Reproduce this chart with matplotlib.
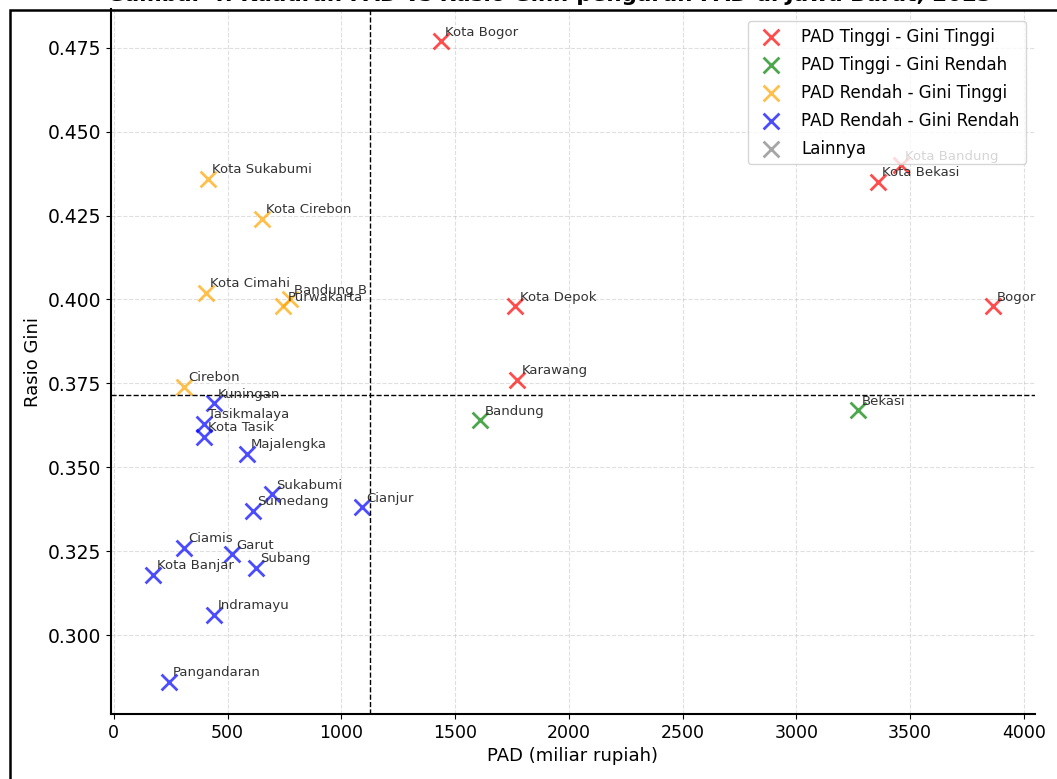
import numpy as np
import matplotlib
matplotlib.use("Agg")
import matplotlib.pyplot as plt
from matplotlib.patches import Rectangle

# kabupaten/kota data (PAD in miliar rupiah, Gini ratio)
names = [
    "Kota Bogor", "Kota Bandung", "Kota Bekasi", "Bogor", "Kota Depok", "Karawang",
    "Bandung", "Bekasi",
    "Kota Sukabumi", "Kota Cirebon", "Kota Cimahi", "Bandung B", "Purwakarta", "Cirebon",
    "Kuningan", "Tasikmalaya", "Kota Tasik", "Majalengka", "Sukabumi", "Sumedang",
    "Cianjur", "Ciamis", "Garut", "Kota Banjar", "Subang", "Indramayu", "Pangandaran",
]
pad = [
    1439, 3459, 3358, 3864, 1765, 1773,
    1611, 3270,
    414, 651, 405, 774, 744, 308,
    440, 396, 396, 585, 695, 612,
    1091, 308, 519, 172, 625, 440, 242,
]
gini = [
    0.477, 0.440, 0.435, 0.398, 0.398, 0.376,
    0.364, 0.367,
    0.436, 0.424, 0.402, 0.400, 0.398, 0.374,
    0.369, 0.363, 0.359, 0.354, 0.342, 0.337,
    0.338, 0.326, 0.324, 0.318, 0.320, 0.306, 0.286,
]

QUADRANTS = [
    ("PAD Tinggi - Gini Tinggi", "red"),
    ("PAD Tinggi - Gini Rendah", "green"),
    ("PAD Rendah - Gini Tinggi", "orange"),
    ("PAD Rendah - Gini Rendah", "blue"),
    ("Lainnya", "gray"),
]

pad = np.array(pad, dtype=float)
gini = np.array(gini)
pad_mean = pad.mean()
gini_mean = gini.mean()


def quadrant(p, g):
    if p > pad_mean and g > gini_mean:
        return 0
    if p > pad_mean and g <= gini_mean:
        return 1
    if p <= pad_mean and g > gini_mean:
        return 2
    if p <= pad_mean and g <= gini_mean:
        return 3
    return 4


quad = np.array([quadrant(p, g) for p, g in zip(pad, gini)])

fig = plt.figure(figsize=(10.57, 7.79), dpi=100)
ax = fig.add_axes([0.105, 0.0834, 0.874, 0.905])

for i, (label, color) in enumerate(QUADRANTS):
    m = quad == i
    ax.scatter(pad[m], gini[m], marker="x", s=130, linewidths=2,
               color=color, alpha=0.7, label=label)

for n, p, g in zip(names, pad, gini):
    ax.annotate(n, (p, g), xytext=(3, 4), textcoords="offset points",
                fontsize=9.5, color="#333333")

ax.axvline(pad_mean, color="black", linestyle="--", linewidth=1)
ax.axhline(gini_mean, color="black", linestyle="--", linewidth=1)

ax.set_xlabel("PAD (miliar rupiah)", fontsize=13)
ax.set_ylabel("Rasio Gini", fontsize=13)
ax.tick_params(axis="x", labelsize=12.5)
ax.tick_params(axis="y", labelsize=13.5)
ax.set_yticks([0.300, 0.325, 0.350, 0.375, 0.400, 0.425, 0.450, 0.475])
ax.yaxis.set_major_formatter(matplotlib.ticker.FormatStrFormatter("%.3f"))
ax.grid(True, linestyle="--", linewidth=0.8, alpha=0.4)
ax.set_axisbelow(True)
for side in ["top", "right"]:
    ax.spines[side].set_visible(False)
ax.spines["left"].set_linewidth(1.5)
ax.spines["bottom"].set_linewidth(1.5)

ax.legend(loc="upper right", fontsize=12, framealpha=0.8, labelspacing=0.6,
          bbox_to_anchor=(0.9995, 0.995))

# outer frame and clipped title of the original screenshot
fig.patches.append(Rectangle((0.009, -0.1), 1.2, 0.1 + 0.987, fill=False,
                             edgecolor="black", linewidth=1.8,
                             transform=fig.transFigure, figure=fig))
fig.text(0.52, 0.9985, "Gambar 4. Kuadran PAD vs Rasio Gini: pengaruh PAD di Jawa Barat, 2023",
         ha="center", va="baseline", fontsize=15.5, fontweight="bold")

fig.savefig("out.png", dpi=100)
